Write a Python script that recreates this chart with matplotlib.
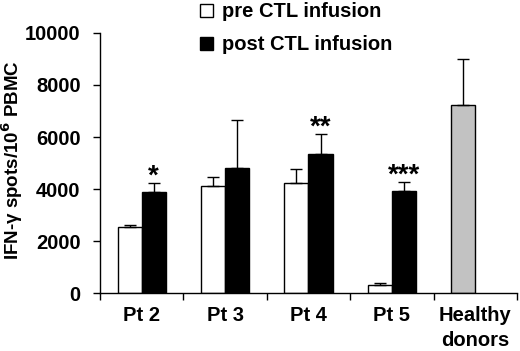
import numpy as np
import matplotlib
matplotlib.use("Agg")
import matplotlib.pyplot as plt
from matplotlib.patches import Patch

plt.rcParams['font.family'] = ['Liberation Sans', 'DejaVu Sans']
plt.rcParams['font.weight'] = 'bold'

groups = ['Pt 2', 'Pt 3', 'Pt 4', 'Pt 5', 'Healthy\ndonors']
pre_vals = [2540, 4110, 4220, 300]
pre_err = [70, 340, 540, 70]
post_vals = [3900, 4800, 5330, 3930]
post_err = [320, 1850, 770, 330]
post_stars = ['*', '', '**', '***']
healthy_val = 7220
healthy_err = 1780

fig = plt.figure(figsize=(5.2, 3.51), dpi=100)
ax = fig.add_axes([0.1923, 0.1652, 0.8017, 0.7408])

w = 0.29
x = np.arange(4)
ax.bar(x - w/2, pre_vals, w, color='white', edgecolor='black', linewidth=1.0,
       yerr=[np.zeros(4), pre_err], capsize=4,
       error_kw=dict(elinewidth=1, capthick=1, ecolor='black'))
ax.bar(x + w/2, post_vals, w, color='black', edgecolor='black', linewidth=1.0,
       yerr=[np.zeros(4), post_err], capsize=4,
       error_kw=dict(elinewidth=1, capthick=1, ecolor='black'))
ax.bar([4 - w/2], [healthy_val], w, color='#c2c2c2', edgecolor='black', linewidth=1.0,
       yerr=[[0], [healthy_err]], capsize=4,
       error_kw=dict(elinewidth=1, capthick=1, ecolor='black'))

for i, s in enumerate(post_stars):
    if s:
        ax.text(i + w/2, post_vals[i] + post_err[i] - 250, s, ha='center', va='bottom',
                fontsize=20, fontweight='bold')

ax.set_xlim(-0.5, 4.5)
ax.set_ylim(0, 10000)
ax.set_yticks([0, 2000, 4000, 6000, 8000, 10000])
ax.tick_params(axis='y', labelsize=14.5, direction='out', length=5, width=1, pad=9)
ax.set_xticks(np.arange(-0.5, 4.6, 1))
ax.set_xticklabels([])
ax.set_xticks(np.arange(5), minor=True)
ax.set_xticklabels(groups, minor=True, fontsize=14.5, fontweight='bold', linespacing=1.45)
ax.tick_params(axis='x', which='major', direction='out', length=5, width=1)
ax.tick_params(axis='x', which='minor', length=0, pad=9)
for lab in ax.get_yticklabels():
    lab.set_fontweight('bold')

for side in ['top', 'right']:
    ax.spines[side].set_visible(False)
ax.spines['left'].set_linewidth(1)
ax.spines['bottom'].set_linewidth(1)

fig.text(12 / 520, 1 - 160 / 351, 'IFN-γ spots/10$^{\\mathbf{6}}$ PBMC', rotation=90,
         ha='center', va='center', fontsize=13.5, fontweight='bold')

handles = [Patch(facecolor='white', edgecolor='black', label='pre CTL infusion'),
           Patch(facecolor='black', edgecolor='black', label='post CTL infusion')]
fig.legend(handles=handles, loc='upper left', bbox_to_anchor=(0.350, 1.045), frameon=False,
           handlelength=0.65, handleheight=0.65, handletextpad=0.45,
           labelspacing=0.7, prop=dict(weight='bold', size=14.5))

fig.savefig('out.png', dpi=100)
